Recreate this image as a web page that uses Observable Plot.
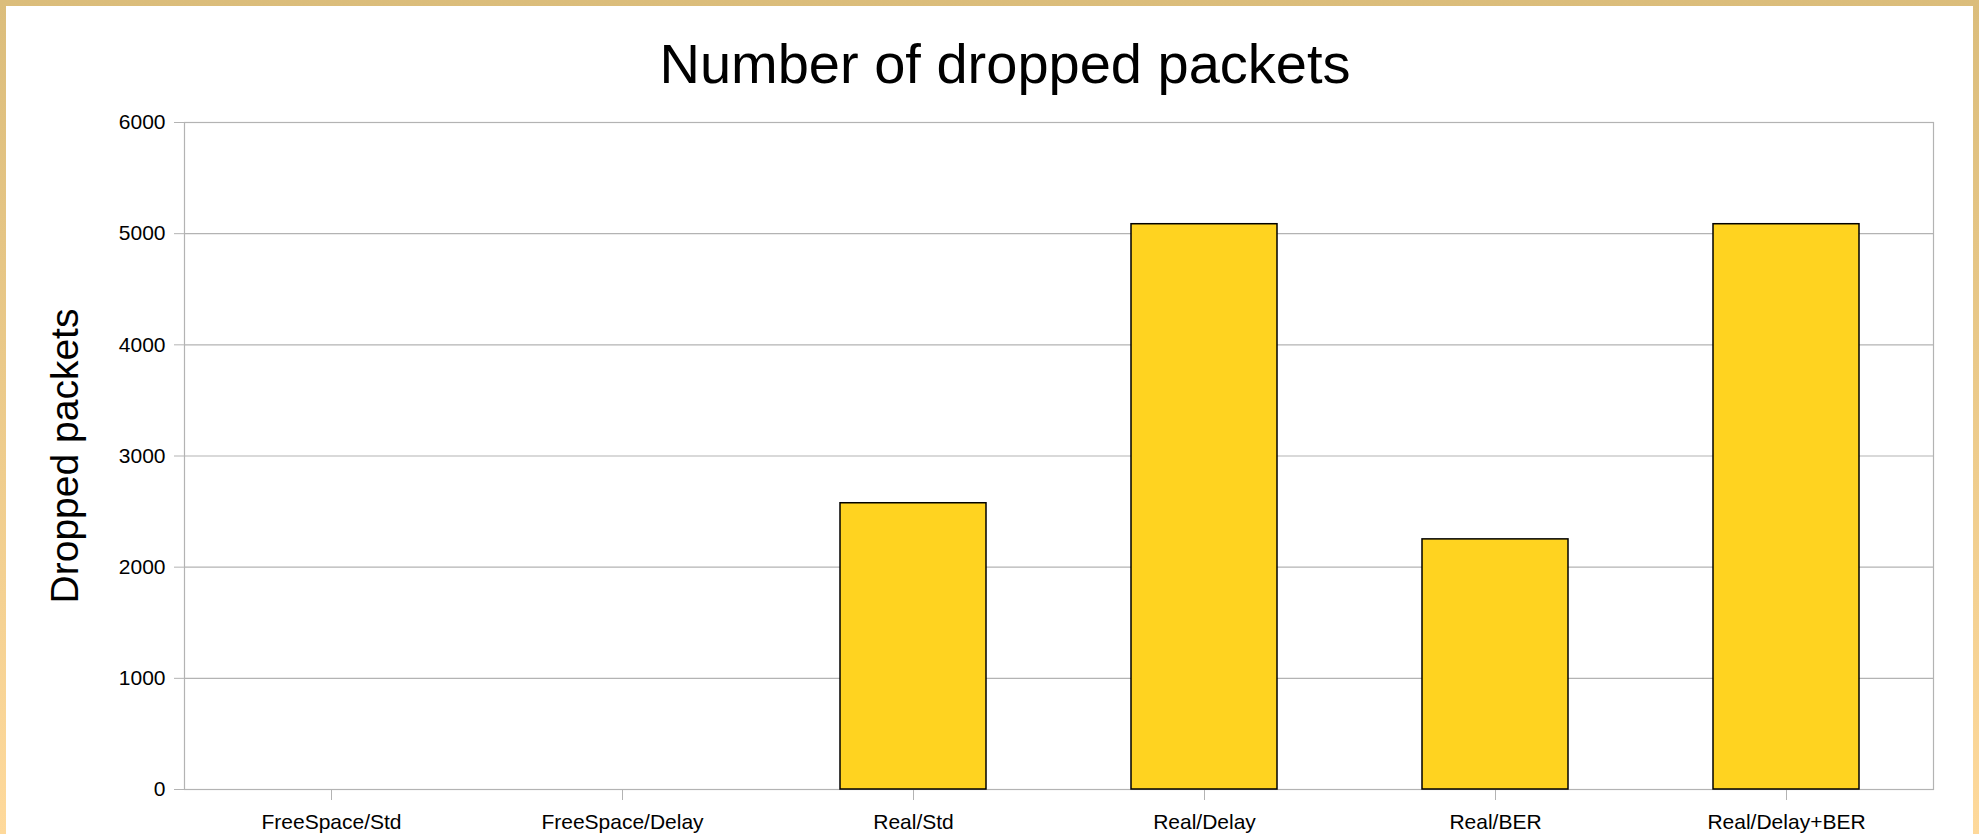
<!DOCTYPE html>
<html>
<head>
<meta charset="utf-8">
<script src="https://cdn.jsdelivr.net/npm/d3@7"></script>
<script src="https://cdn.jsdelivr.net/npm/@observablehq/plot@0.6"></script>
<style>
  html, body { margin: 0; padding: 0; background: #fff; }
  #frame {
    width: 1979px; height: 834px; box-sizing: border-box;
    padding: 6px 6px 0 6px;
    background: linear-gradient(to bottom, #dbbd7b, #fed99b);
    overflow: hidden;
  }
  #inner { width: 1967px; height: 828px; background: #fff; position: relative; }
  #title {
    font-family: "Liberation Sans", Arial, sans-serif;
    font-size: 56px; line-height: 57px; height: 57px;
    padding-top: 29px; padding-left: 31px;
    text-align: center; color: #000;
  }
</style>
</head>
<body>
<div id="frame"><div id="inner">
  <div id="title">Number of dropped packets</div>
  <div id="chart"></div>
</div></div>
<script>
const categories = ["FreeSpace/Std", "FreeSpace/Delay", "Real/Std", "Real/Delay", "Real/BER", "Real/Delay+BER"];
const droppedPackets = [0, 0, 2575, 5085, 2250, 5085];
const yTicks = [0, 1000, 2000, 3000, 4000, 5000, 6000];
const yLabel = "Dropped packets";

const data = categories.map((c, i) => ({category: c, value: droppedPackets[i]}));

const chart = Plot.plot({
  width: 1967,
  height: 742,
  marginTop: 30,
  marginBottom: 45,
  marginLeft: 178,
  marginRight: 40,
  style: {fontFamily: "'Liberation Sans', Arial, sans-serif", fontSize: "21px", background: "#fff", color: "#000", overflow: "visible"},
  x: {domain: categories, paddingInner: 0.5, paddingOuter: 0.25, align: 0.5},
  y: {domain: [0, 6000]},
  marks: [
    Plot.gridY(yTicks, {stroke: "#b3b3b3", strokeOpacity: 1, strokeWidth: 1.2}),
    Plot.frame({stroke: "#b3b3b3", strokeWidth: 1.2}),
    Plot.axisY(yTicks, {tickSize: 10, tickPadding: 9, stroke: "#b3b3b3", fill: "#000", label: null, tickFormat: d => String(d)}),
    Plot.axisX({tickSize: 11, tickPadding: 14, stroke: "#b3b3b3", fill: "#000", label: null}),
    Plot.barY(data.filter(d => d.value > 0), {x: "category", y: "value", fill: "#ffd320", stroke: "#000", strokeWidth: 1.5}),
    Plot.text([yLabel], {text: d => d, frameAnchor: "left", textAnchor: "middle", dx: -119, rotate: -90, fontSize: 39, fill: "#000"})
  ]
});
document.getElementById("chart").appendChild(chart);
</script>
</body>
</html>
